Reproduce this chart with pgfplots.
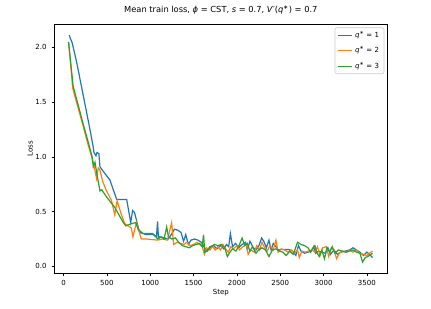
\documentclass[border=0pt]{standalone}
\usepackage{fontspec}
\setmainfont{DejaVu Sans}
\usepackage{pgfplots}
\pgfplotsset{compat=1.18}
\definecolor{c1}{HTML}{1F77B4}
\definecolor{c2}{HTML}{FF7F0E}
\definecolor{c3}{HTML}{2CA02C}
\newcommand\fs{\fontsize{7bp}{8bp}\selectfont}
\newcommand\qs{\textit{q}\textsuperscript{∗}}
\begin{document}
\begin{tikzpicture}
\useasboundingbox (0,0) rectangle (431bp,309bp);
\begin{axis}[
 at={(54bp,35.7bp)}, anchor=south west,
 scale only axis, width=333.7bp, height=249.3bp,
 xmin=-110, xmax=3740, ymin=-0.063, ymax=2.213,
 xtick={0,500,...,3500}, ytick={0,0.5,1,1.5,2},
 axis line style={line width=0.6bp, black},
 tick style={line width=0.6bp, black},
 tick align=outside, tick pos=left,
 major tick length=2.4bp,
 /pgf/number format/assume math mode=true,
 /pgf/number format/1000 sep={},
 yticklabel style={/pgf/number format/fixed, /pgf/number format/fixed zerofill, /pgf/number format/precision=1, anchor=east, inner sep=0pt, xshift=-4.8bp},
 xticklabel style={anchor=north, inner sep=0pt, yshift=-4.8bp},
 tick label style={font=\fs},
 xlabel={Step}, ylabel={Loss},
 xlabel style={font=\fs, at={(axis description cs:0.5,-0.0778)}, anchor=center, inner sep=0pt},
 ylabel style={font=\fs, at={(axis description cs:-0.0719,0.5)}, anchor=center, inner sep=0pt},
 title={Mean train loss, \textit{ϕ} = CST, \textit{s} = 0.7, \textit{V}′(\qs) = 0.7},
 title style={font=\fontsize{8.3bp}{10bp}\selectfont, at={(axis description cs:0.5,1)}, anchor=base, yshift=5.3bp, inner sep=0pt},
 legend style={at={(0.9897,0.9862)}, anchor=north east, draw=black!20, line width=0.6bp, rounded corners=2bp, fill=white, fill opacity=0.8, text opacity=1, draw opacity=1, font=\fs, inner xsep=2.5bp, inner ysep=3bp, row sep=6.5bp, nodes={inner ysep=0pt, inner xsep=2.5bp, text height=6.5bp, text depth=2.5bp}},
 legend cell align=left,
 legend image code/.code={\draw[#1, line width=1.2bp, draw opacity=1] (0bp,0bp) -- (14bp,0bp);},
]
\addplot[c1, line width=1.2bp, no marks] coordinates {
(65,2.11) (100,2.04) (150,1.87) (200,1.67) (250,1.47) (300,1.27) (340,1.10)
(351,1.04) (374,1.01) (386,1.04) (408,1.03) (420,0.91) (466,0.86) (534,0.79)
(614,0.61) (729,0.61) (775,0.40) (797,0.51) (820,0.49) (877,0.31) (957,0.29)
(1037,0.29) (1072,0.27) (1085,0.41) (1095,0.26)
(1110,0.27) (1160,0.26) (1210,0.25) (1250,0.30) (1280,0.34) (1320,0.33) (1355,0.31)
(1385,0.23) (1410,0.29) (1440,0.20) (1470,0.24) (1510,0.25) (1550,0.24) (1590,0.22)
(1620,0.18) (1650,0.14) (1690,0.18) (1730,0.19) (1770,0.16) (1810,0.19) (1850,0.16)
(1880,0.20) (1905,0.18) (1925,0.30) (1950,0.18) (1985,0.21) (2020,0.17) (2060,0.20)
(2100,0.22) (2120,0.15) (2150,0.23) (2190,0.17) (2220,0.15) (2255,0.19) (2285,0.26)
(2310,0.23) (2340,0.17) (2370,0.24) (2395,0.15) (2420,0.21) (2450,0.18) (2480,0.15)
(2520,0.155) (2600,0.155) (2640,0.14) (2680,0.10) (2710,0.19) (2740,0.14) (2780,0.12)
(2820,0.13) (2860,0.14) (2885,0.18) (2910,0.12) (2940,0.14) (2980,0.13) (3020,0.12)
(3050,0.17) (3080,0.11) (3120,0.15) (3160,0.11) (3200,0.13) (3250,0.14) (3300,0.15)
(3340,0.17) (3380,0.15) (3420,0.13) (3460,0.10) (3500,0.13) (3530,0.11) (3565,0.08)
};
\addlegendentry{\qs{} = 1}
\addplot[c2, line width=1.2bp, no marks] coordinates {
(60,2.05) (105,1.63) (160,1.47) (220,1.30) (280,1.12) (340,0.96) (382,0.80)
(400,0.90) (420,0.88) (450,0.78) (490,0.70) (554,0.60) (591,0.47) (618,0.60)
(660,0.49) (706,0.39) (782,0.35) (801,0.27) (840,0.40) (897,0.25) (960,0.25)
(1020,0.245) (1087,0.24) (1140,0.25) (1200,0.24) (1247,0.40) (1270,0.20) (1310,0.22)
(1350,0.21) (1390,0.20) (1420,0.22) (1460,0.19) (1500,0.20) (1540,0.22) (1570,0.20)
(1600,0.18) (1625,0.11) (1650,0.17) (1690,0.15) (1720,0.18) (1750,0.15) (1780,0.18)
(1810,0.15) (1840,0.20) (1870,0.16) (1900,0.13) (1930,0.18) (1960,0.16) (2000,0.19)
(2030,0.15) (2070,0.18) (2110,0.20) (2130,0.11) (2160,0.15) (2200,0.13) (2230,0.19)
(2260,0.15) (2290,0.22) (2320,0.17) (2350,0.14) (2380,0.19) (2420,0.15) (2450,0.24)
(2475,0.13) (2510,0.16) (2550,0.15) (2590,0.13) (2630,0.15) (2660,0.12) (2700,0.15)
(2720,0.08) (2750,0.14) (2790,0.13) (2830,0.14) (2870,0.15) (2900,0.13) (2930,0.18)
(2960,0.10) (2990,0.17) (3030,0.18) (3060,0.09) (3090,0.17) (3120,0.15) (3150,0.07)
(3180,0.12) (3220,0.14) (3260,0.13) (3300,0.15) (3340,0.13) (3380,0.15) (3420,0.12)
(3460,0.11) (3500,0.10) (3530,0.12) (3565,0.14)
};
\addlegendentry{\qs{} = 2}
\addplot[c3, line width=1.2bp, no marks] coordinates {
(57,2.05) (112,1.64) (170,1.47) (230,1.29) (290,1.12) (330,1.00) (343,0.91)
(363,0.95) (390,0.82) (420,0.69) (440,0.70) (500,0.63) (590,0.54) (690,0.40)
(720,0.37) (782,0.39) (832,0.40) (860,0.34) (917,0.30) (1030,0.30) (1087,0.25)
(1130,0.27) (1160,0.25) (1190,0.36) (1210,0.27) (1250,0.25) (1290,0.26) (1330,0.22)
(1370,0.19) (1410,0.18) (1450,0.17) (1490,0.19) (1530,0.20) (1570,0.21) (1600,0.18)
(1615,0.29) (1630,0.13) (1660,0.14) (1700,0.18) (1740,0.20) (1780,0.19) (1820,0.20)
(1860,0.17) (1890,0.09) (1920,0.13) (1950,0.16) (1990,0.14) (2030,0.20) (2060,0.26)
(2090,0.19) (2120,0.21) (2150,0.14) (2180,0.18) (2220,0.12) (2250,0.15) (2290,0.17)
(2330,0.15) (2370,0.09) (2410,0.15) (2450,0.16) (2490,0.14) (2530,0.13) (2570,0.10)
(2610,0.14) (2650,0.11) (2700,0.22) (2740,0.20) (2780,0.19) (2820,0.17) (2850,0.13)
(2870,0.16) (2900,0.19) (2920,0.13) (2950,0.09) (2980,0.15) (3010,0.07) (3040,0.17)
(3070,0.13) (3100,0.18) (3130,0.12) (3170,0.15) (3210,0.14) (3260,0.13) (3300,0.14)
(3340,0.15) (3380,0.13) (3420,0.12) (3450,0.04) (3480,0.08) (3510,0.09) (3565,0.12)
};
\addlegendentry{\qs{} = 3}
\end{axis}
\end{tikzpicture}
\end{document}
